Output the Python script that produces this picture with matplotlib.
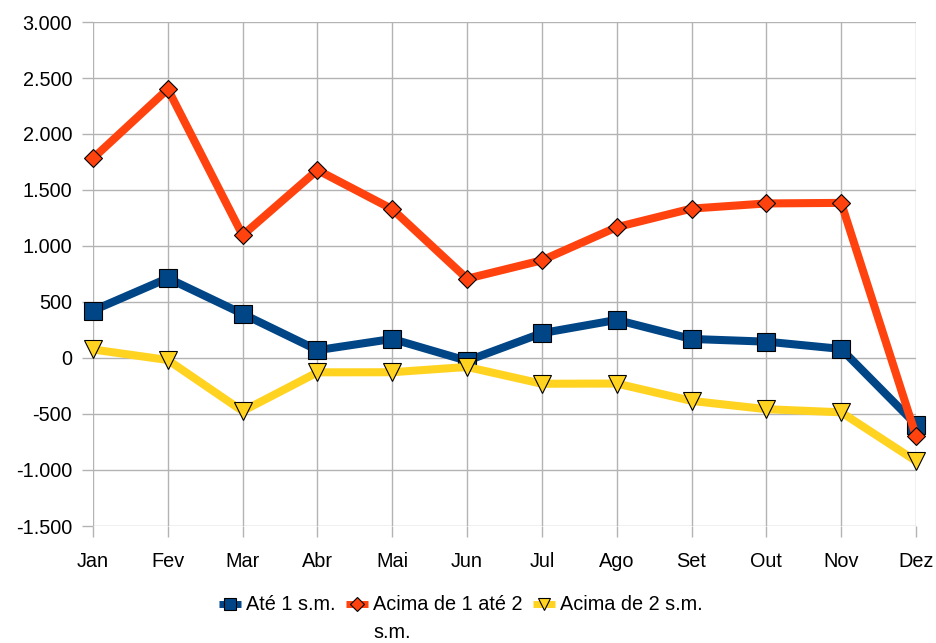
import matplotlib
matplotlib.use("Agg")
import matplotlib.pyplot as plt
from matplotlib.ticker import FuncFormatter, MultipleLocator

plt.rcParams['font.family'] = ['Liberation Sans', 'DejaVu Sans']

months = ["Jan", "Fev", "Mar", "Abr", "Mai", "Jun", "Jul", "Ago", "Set", "Out", "Nov", "Dez"]
ate_1 = [424, 713, 394, 70, 170, -25, 222, 340, 170, 146, 81, -594]
de_1_a_2 = [1783, 2401, 1096, 1678, 1329, 708, 872, 1168, 1334, 1380, 1385, -696]
acima_2 = [76, -18, -474, -128, -127, -80, -230, -228, -383, -457, -485, -920]
labels = ["Até 1 s.m.", "Acima de 1 até 2 s.m.", "Acima de 2 s.m."]

colors = ["#004586", "#ff420e", "#ffd320"]
markers = ["s", "D", "v"]
msizes = [13, 9.5, 13]

fig = plt.figure(figsize=(9.37, 6.43), dpi=100)
ax = fig.add_axes([93/937, 1-526/643, (916-93)/937, (526-22)/643])

x = list(range(len(months)))
handles = []
for data, c, m, ms in zip([ate_1, de_1_a_2, acima_2], colors, markers, msizes):
    h, = ax.plot(x, data, color=c, lw=5.8, marker=m, ms=ms, mfc=c, mec="black",
                 mew=0.8, solid_joinstyle="miter", solid_capstyle="butt", clip_on=False)
    handles.append(h)

ax.set_xlim(0, 11)
ax.set_ylim(-1500, 3000)
ax.yaxis.set_major_locator(MultipleLocator(500))
ax.yaxis.set_major_formatter(FuncFormatter(lambda v, p: f"{int(round(v)):,}".replace(",", ".")))
ax.set_xticks(x)
ax.set_xticklabels(months)

ax.grid(True, color="#b3b3b3", lw=1)
ax.set_axisbelow(True)
for s in ax.spines.values():
    s.set_visible(False)
ax.tick_params(axis="both", length=8, width=1, color="#b3b3b3", labelsize=14.3, labelcolor="black")
ax.tick_params(axis="x", pad=10.5)
ax.tick_params(axis="y", pad=7)

# legend: wrap the second label like the original
leg_labels = [labels[0], "Acima de 1 até 2", labels[2]]
leg = fig.legend(handles, leg_labels, loc="center left",
                 bbox_to_anchor=(219/937, 1-605/643), ncol=3, frameon=False,
                 fontsize=14.3, handlelength=1.1, handletextpad=0.25,
                 columnspacing=0.55, borderpad=0, borderaxespad=0, markerscale=0.7)
for lh in leg.get_lines():
    lh.set_linewidth(5)
fig.canvas.draw()
t = leg.get_texts()[1]
bb = t.get_window_extent()
fig.text(bb.x0 / fig.bbox.width, (bb.y0 - 27) / fig.bbox.height, "s.m.",
         fontsize=14.3, ha="left", va="bottom")

fig.savefig("out.png", dpi=100)
